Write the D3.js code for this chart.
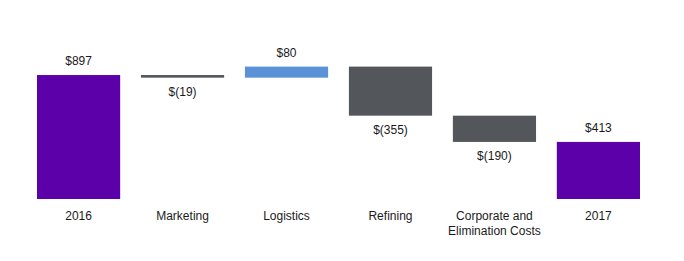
<!DOCTYPE html>
<html>
<head>
<meta charset="utf-8">
<script src="https://cdn.jsdelivr.net/npm/d3@7"></script>
<style>
body { margin:0; background:#fff; }
text { font-family: "Liberation Sans", Arial, sans-serif; font-size:12px; fill:#1a1a1a; }
</style>
</head>
<body>
<svg width="684" height="261"></svg>
<script>
const categories = ["2016", "Marketing", "Logistics", "Refining", "Corporate and\nElimination Costs", "2017"];
const values = [897, -19, 80, -355, -190, 413];
const kinds = ["total", "delta", "delta", "delta", "delta", "total"];
const valueLabels = ["$897", "$(19)", "$80", "$(355)", "$(190)", "$413"];

const colors = {total:"#5c00aa", up:"#5b91d6", down:"#53565a"};

// running totals for the waterfall
let run = 0;
const DATA = categories.map((c, i) => {
  let start, end;
  if (kinds[i] == "total") { start = 0; end = values[i]; run = values[i]; }
  else { start = run; end = run + values[i]; run = end; }
  return {name:c, value:values[i], kind:kinds[i], start:start, end:end, label:valueLabels[i]};
});

const xScale = d3.scaleBand()
  .domain(categories)
  .range([37, 640])
  .paddingInner(0.2)
  .paddingOuter(0);

const yScale = d3.scaleLinear()
  .domain([0, 1000])
  .range([199, 60.8]);

const svg = d3.select("svg");

svg.selectAll(".bar")
  .data(DATA)
  .enter()
  .append("rect")
  .classed("bar", true)
  .attr("x", d => xScale(d.name))
  .attr("width", xScale.bandwidth())
  .attr("y", d => yScale(Math.max(d.start, d.end)))
  .attr("height", d => Math.max(2.6, Math.abs(yScale(d.start) - yScale(d.end))))
  .attr("fill", d => d.kind == "total" ? colors.total : (d.value >= 0 ? colors.up : colors.down));

// value labels: above for positives, below for negatives
svg.selectAll(".val")
  .data(DATA)
  .enter()
  .append("text")
  .classed("val", true)
  .attr("x", d => xScale(d.name) + xScale.bandwidth() / 2)
  .attr("y", d => d.value >= 0 ? yScale(Math.max(d.start, d.end)) - 10 : yScale(Math.min(d.start, d.end)) + 18)
  .attr("text-anchor", "middle")
  .text(d => d.label);

// category labels
const cats = svg.selectAll(".cat")
  .data(DATA)
  .enter()
  .append("text")
  .classed("cat", true)
  .attr("x", d => xScale(d.name) + xScale.bandwidth() / 2)
  .attr("y", 220)
  .attr("text-anchor", "middle");

cats.selectAll("tspan")
  .data(d => d.name.split("\n").map(t => ({t:t, x:xScale(d.name) + xScale.bandwidth() / 2})))
  .enter()
  .append("tspan")
  .attr("x", d => d.x)
  .attr("dy", (d, i) => i == 0 ? 0 : 15)
  .text(d => d.t);
</script>
</body>
</html>
